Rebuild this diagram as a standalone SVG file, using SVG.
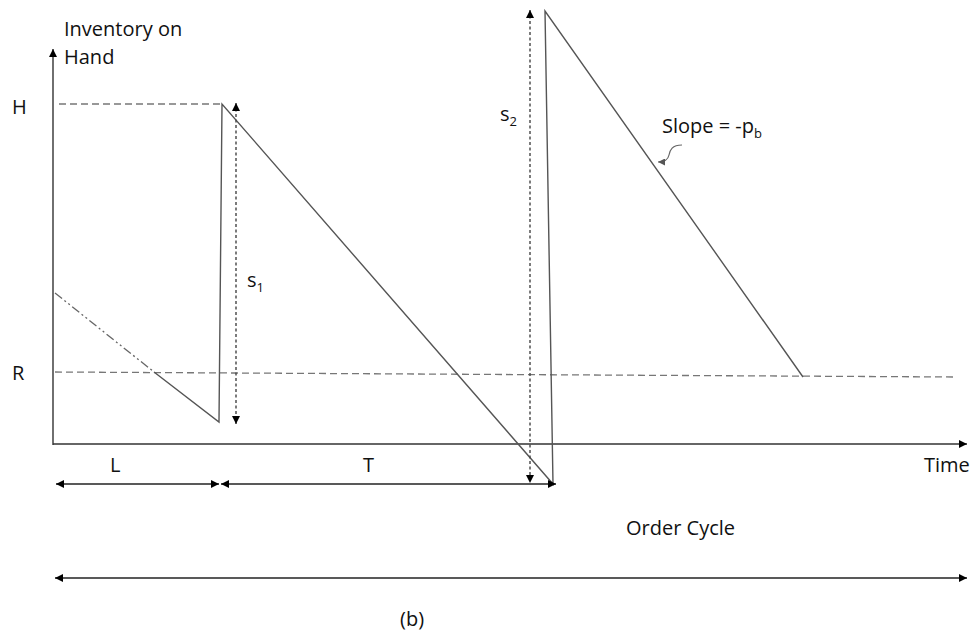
<svg xmlns="http://www.w3.org/2000/svg" width="977" height="634" viewBox="0 0 977 634">
<defs>
<marker id="ah" viewBox="0 0 10 10" refX="10" refY="5" markerWidth="9" markerHeight="8" markerUnits="userSpaceOnUse" orient="auto-start-reverse">
<path d="M0,0 L10,5 L0,10 z" fill="#000"/>
</marker>
<marker id="ahs" viewBox="0 0 10 10" refX="10" refY="5" markerWidth="8" markerHeight="7" markerUnits="userSpaceOnUse" orient="auto-start-reverse">
<path d="M0,0 L10,5 L0,10 z" fill="#555"/>
</marker>
</defs>
<style>
text{font-family:"Open Sans","Liberation Sans",sans-serif;font-size:20px;fill:#111}
.sub{font-size:13px}
.axis{stroke:#333;stroke-width:1.4;fill:none}
.saw{stroke:#555;stroke-width:1.4;fill:none}
.dash{stroke:#777;stroke-width:1.3;stroke-dasharray:7,4;fill:none}
.dot{stroke:#444;stroke-width:1.4;stroke-dasharray:3,2.5;fill:none}
.dim{stroke:#222;stroke-width:1.3;fill:none}
</style>
<rect width="977" height="634" fill="#fff"/>
<g id="axes">
<line class="axis" x1="53" y1="445" x2="53" y2="49" marker-end="url(#ah)"/>
<line class="axis" x1="53" y1="444" x2="967" y2="444" marker-end="url(#ah)"/>
</g>
<g id="labels">
<text x="64" y="36">Inventory on</text>
<text x="64" y="64">Hand</text>
<text x="12" y="114">H</text>
<text x="12" y="380">R</text>
<text x="924" y="472">Time</text>
<text x="110" y="472">L</text>
<text x="363" y="472">T</text>
<text x="626" y="535">Order Cycle</text>
<text x="400" y="626">(b)</text>
<text x="662" y="133">Slope = -p<tspan class="sub" dy="5">b</tspan></text>
<text x="247" y="287">s<tspan class="sub" dy="5">1</tspan></text>
<text x="500" y="121">s<tspan class="sub" dy="5">2</tspan></text>
</g>
<g id="reference-lines">
<line class="dash" x1="59" y1="104" x2="222" y2="104"/>
<line class="dash" x1="55" y1="372" x2="955" y2="377"/>
</g>
<g id="inventory-curve">
<line x1="55" y1="293" x2="154" y2="372" stroke="#666" stroke-width="1.3" stroke-dasharray="9,3,2,3,2,3"/>
<polyline class="saw" points="154,372 219,422 222,104 553,484 545,11 803,377"/>
</g>
<g id="connectors">
<line class="dot" x1="236" y1="103" x2="236" y2="424" marker-start="url(#ah)" marker-end="url(#ah)"/>
<line class="dot" x1="530" y1="10" x2="530" y2="483" marker-start="url(#ah)" marker-end="url(#ah)"/>
<line class="dim" x1="56" y1="484" x2="219" y2="484" marker-start="url(#ah)" marker-end="url(#ah)"/>
<line class="dim" x1="221" y1="484" x2="556" y2="484" marker-start="url(#ah)" marker-end="url(#ah)"/>
<line class="dim" x1="55" y1="578" x2="967" y2="578" marker-start="url(#ah)" marker-end="url(#ah)"/>
<path d="M682,145 C672,145 670,150 669,155 C668,160 665,162 658,162" stroke="#666" stroke-width="1.2" fill="none" marker-end="url(#ahs)"/>
</g>
</svg>
